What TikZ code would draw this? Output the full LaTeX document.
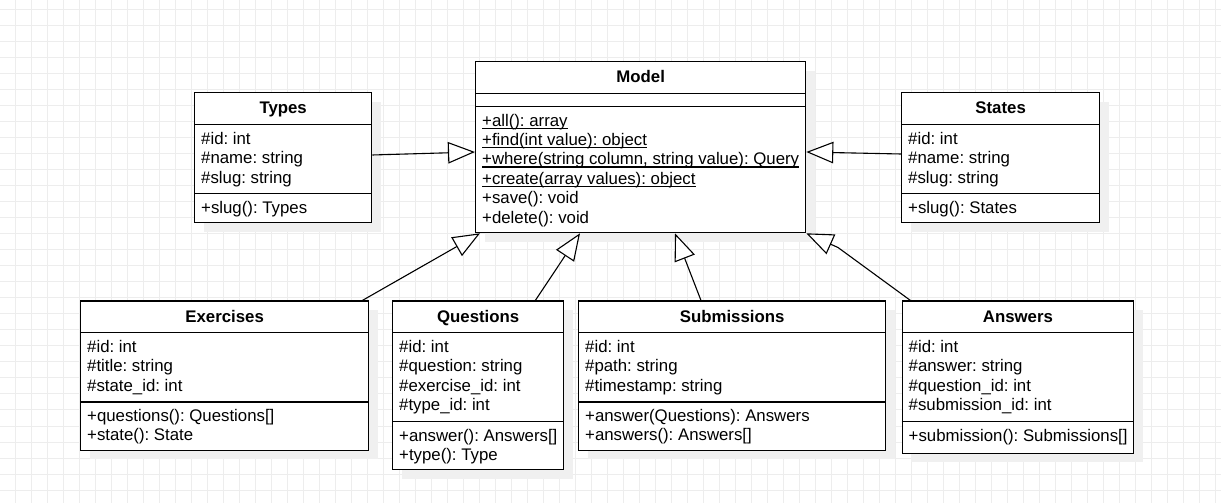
\documentclass[tikz,border=0pt]{standalone}
\usepackage{fontspec}
\setmainfont{Liberation Sans}
\usetikzlibrary{arrows.meta,calc,shadows}
\frenchspacing
\newcommand\memfont{\fontsize{16.86pt}{19.5pt}\selectfont\frenchspacing}
\newcommand\ulx[1]{\setbox0\hbox{#1}\rlap{\rule[-2.6bp]{\wd0}{1.1bp}}\box0}
\newcommand\umlrows[4]{\foreach \txt [count=\k] in {#4} {\node[member] (#1\k) at ($(#2.north west)+(7,{#3+(\k-1)*19.4})$) {\txt};}}
\newcommand\umlsep[2]{\draw[sepline] ($(#1.north west)+(0,#2)$) -- ($(#1.north east)+(0,#2)$);}
\begin{document}
\begin{tikzpicture}[x=1bp,y=-1bp,
  gridline/.style={draw=black!7,line width=1bp},
  cls/.style={draw=black,line width=1.3bp,fill=white,inner sep=0pt,anchor=north west,
    drop shadow={shadow xshift=9bp,shadow yshift=-9bp,fill=black!6,opacity=1}},
  sepline/.style={draw=black,line width=1.3bp},
  member/.style={anchor=base west,inner sep=0pt,font=\memfont},
  ctitle/.style={anchor=base,inner sep=0pt,font=\memfont\bfseries},
  gen/.style={draw=black,line width=1.1bp,line join=miter,
    -{Triangle[length=27bp,width=21.5bp,fill=white,line width=1.1bp]}}]
\useasboundingbox (0,0) rectangle (1221,503);
\fill[white] (0,0) rectangle (1221,503);
\foreach \gx in {15,31,...,1215} \draw[gridline] (\gx,0) -- (\gx,503);
\foreach \gy in {10,26,...,490} \draw[gridline] (0,\gy) -- (1221,\gy);

% classes
\node[cls,minimum width=330bp,minimum height=171bp] (model) at (475,61) {};
\node[cls,minimum width=177bp,minimum height=130bp] (types) at (194,92) {};
\node[cls,minimum width=198bp,minimum height=130bp] (states) at (901,92) {};
\node[cls,minimum width=288bp,minimum height=149bp] (exercises) at (80,300.5) {};
\node[cls,minimum width=171bp,minimum height=168.5bp] (questions) at (392,300.5) {};
\node[cls,minimum width=307bp,minimum height=149bp] (submissions) at (578,300.5) {};
\node[cls,minimum width=231.5bp,minimum height=152bp] (answers) at (901.5,300.5) {};

% model
\node[ctitle] (model-t) at ($(model.north)+(0,22)$) {Model};
\umlsep{model}{32.3}\umlsep{model}{45.7}
\umlrows{model-m}{model}{65.2}{{\ulx{+all(): array}},{\ulx{+find(int value): object}},{\ulx{+where(string column, string value): Query}},{\ulx{+create(array values): object}},{+save(): void},{+delete(): void}}

% types
\node[ctitle] (types-t) at ($(types.north)+(0,22)$) {Types};
\umlsep{types}{32.3}\umlsep{types}{101.7}
\umlrows{types-a}{types}{52.3}{{\#id: int},{\#name: string},{\#slug: string}}
\umlrows{types-m}{types}{121.2}{{+slug(): Types}}

% states
\node[ctitle] (states-t) at ($(states.north)+(0,22)$) {States};
\umlsep{states}{32.3}\umlsep{states}{101.7}
\umlrows{states-a}{states}{52.3}{{\#id: int},{\#name: string},{\#slug: string}}
\umlrows{states-m}{states}{121.2}{{+slug(): States}}

% exercises
\node[ctitle] (exercises-t) at ($(exercises.north)+(0,22)$) {Exercises};
\umlsep{exercises}{32.3}\umlsep{exercises}{101.5}
\umlrows{exercises-a}{exercises}{51.8}{{\#id: int},{\#title: string},{\#state\_id: int}}
\umlrows{exercises-m}{exercises}{121}{{+questions(): Questions[]},{+state(): State}}

% questions
\node[ctitle] (questions-t) at ($(questions.north)+(0,22)$) {Questions};
\umlsep{questions}{32.3}\umlsep{questions}{121}
\umlrows{questions-a}{questions}{52}{{\#id: int},{\#question: string},{\#exercise\_id: int},{\#type\_id: int}}
\umlrows{questions-m}{questions}{140.5}{{+answer(): Answers[]},{+type(): Type}}

% submissions
\node[ctitle] (submissions-t) at ($(submissions.north)+(0,22)$) {Submissions};
\umlsep{submissions}{32.3}\umlsep{submissions}{101.5}
\umlrows{submissions-a}{submissions}{51.8}{{\#id: int},{\#path: string},{\#timestamp: string}}
\umlrows{submissions-m}{submissions}{121}{{+answer(Questions): Answers},{+answers(): Answers[]}}

% answers
\node[ctitle] (answers-t) at ($(answers.north)+(0,22)$) {Answers};
\umlsep{answers}{32.3}\umlsep{answers}{121.2}
\umlrows{answers-a}{answers}{52}{{\#id: int},{\#answer: string},{\#question\_id: int},{\#submission\_id: int}}
\umlrows{answers-m}{answers}{140.7}{{+submission(): Submissions[]}}

% generalisations
\draw[gen] ($(types.north east)+(0,63)$) -- ($(model.north west)+(0,91)$);
\draw[gen] ($(states.north west)+(0,62)$) -- ($(model.north east)+(0,91)$);
\draw[gen] ($(exercises.north east)+(-7,0)$) -- ($(model.south west)+(5,0)$);
\draw[gen] ($(questions.north east)+(-29,0)$) -- ($(model.south west)+(105,0)$);
\draw[gen] ($(submissions.north west)+(123,0)$) -- ($(model.south west)+(200,0)$);
\coordinate (akink) at (838,247.5);
\draw[gen] ($(answers.north west)+(9,0)$) -- (akink) -- (model.south east);
\end{tikzpicture}
\end{document}
